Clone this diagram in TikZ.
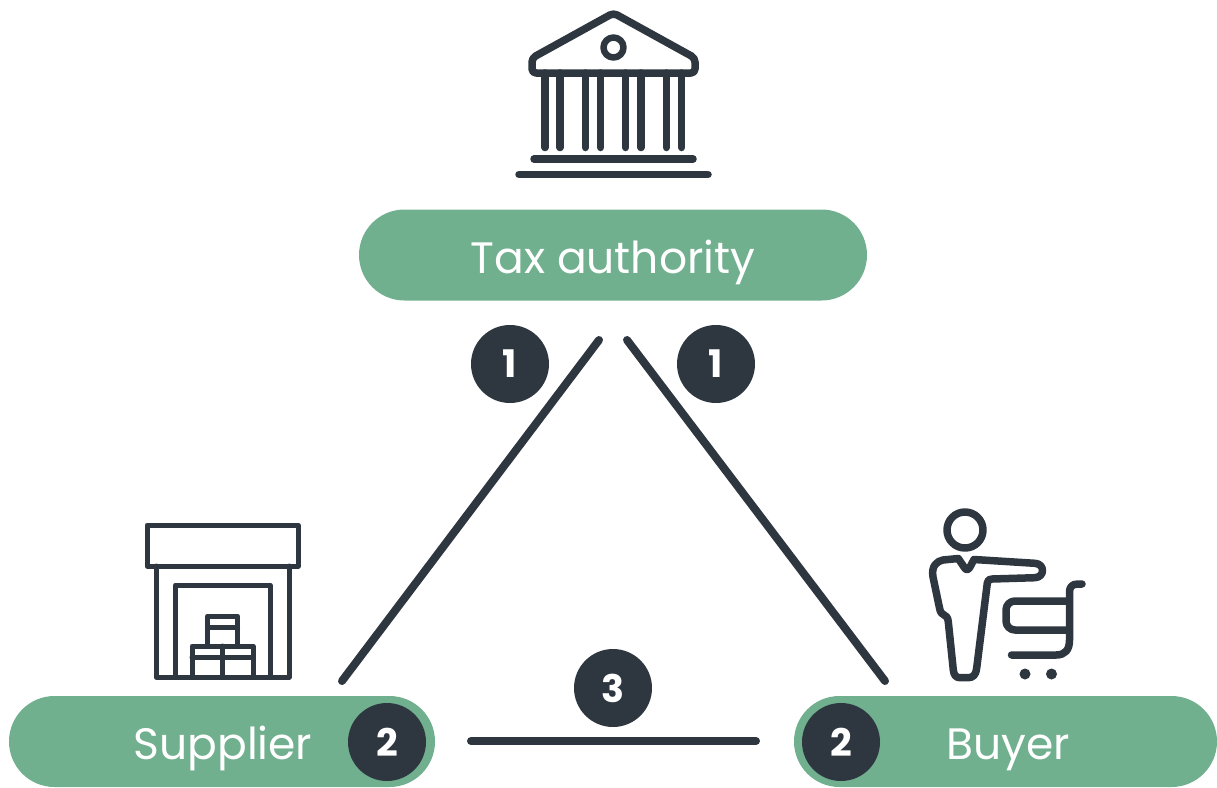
\documentclass[tikz,border=0pt]{standalone}
\usepackage{fontspec}
\setmainfont{Poppins}
\newfontfamily\digitfont{Poppins Bold}
\definecolor{slate}{HTML}{2E3740}
\definecolor{sage}{HTML}{70B08E}
\tikzset{
  pill/.style={fill=sage,text=white,rounded corners=45.5pt,minimum height=91pt,inner sep=0pt,outer sep=0pt,text height=36pt,text depth=0pt,font=\fontsize{44}{44}\selectfont},
  badge/.style={circle,fill=slate,text=white,minimum size=78pt,inner sep=0pt,font=\fontsize{38}{38}\digitfont},
  link/.style={slate,line width=8pt,line cap=round},
  icon/.style={slate,line width=#1,line join=round,line cap=round},
}
\begin{document}
\begin{tikzpicture}[x=1pt,y=-1pt]
\useasboundingbox (0,0) rectangle (1217,787);
\node[pill,minimum width=508pt] (tax) at (613,255) {Tax authority};
\node[pill,minimum width=426pt] (supplier) at (222,741.5) {\hspace{2pt}Supplier};
\node[pill,minimum width=423pt] (buyer) at (1005.5,741.5) {\hspace{5pt}Buyer};
\node[badge] (one1) at (510,364) {1};
\node[badge] (one2) at (716,364) {1};
\node[badge] (two1) at (387,742) {2};
\node[badge] (two2) at (841,742) {2};
\node[badge] (three) at (613,688) {3};

\coordinate (taxleft) at (599,340);
\coordinate (taxright) at (627,340);
\coordinate (supplierend) at (342,681);
\coordinate (buyerend) at (885,681);
\coordinate (barleft) at (471,741);
\coordinate (barright) at (756,741);
\draw[link] (taxleft) -- (supplierend);
\draw[link] (taxright) -- (buyerend);
\draw[link] (barleft) -- (barright);

\begin{scope}[icon=7.5pt]
\draw[rounded corners=4pt] (613.5,13) -- (695,58) -- (695,73) -- (532,73) -- (532,58) -- cycle;
\draw[line width=6.5pt] (613.5,47.5) circle (10);
\foreach \colx in {545,560,585.3,600.7,625.7,641,666.3,681.7}
  \draw (\colx,73) -- (\colx,147.5);
\draw (534,159) -- (693,159);
\draw (519,174.5) -- (708,174.5);
\end{scope}

\begin{scope}[icon=5pt]
\draw (147,525) rectangle (298,566);
\draw (156,566) -- (156,677) -- (289,677) -- (289,566);
\draw (175.5,677) -- (175.5,585) -- (270,585) -- (270,677);
\draw (207.5,646) -- (207.5,616) -- (237.5,616) -- (237.5,646);
\draw (207.5,627) -- (237.5,627);
\draw (192,677) -- (192,646) -- (253,646) -- (253,677);
\draw (222.5,646) -- (222.5,677);
\draw (192,657) -- (253,657);
\end{scope}

\begin{scope}[icon=7.5pt]
\draw (965,530) circle (18);
\draw (958.3,558.5) -- (964,567) .. controls (966,570.5) and (968,570.5) .. (970,567) -- (974,559.5) -- (1035,563.3) .. controls (1045,564) and (1045,577) .. (1035,577.7) -- (992,579) .. controls (989,579) and (987.8,580) .. (987.3,583) -- (976.7,668) .. controls (976,675) and (973,677.7) .. (968,677.7) -- (960,677.7) .. controls (956,677.7) and (953.8,675) .. (953.3,670) -- (948.3,622) .. controls (947.5,612) and (941,618) .. (939.5,608) -- (933,577) .. controls (931,566) and (937,561) .. (943,560) -- cycle;
\draw[rounded corners=9pt] (1067,601) -- (1006,601) -- (1006,630) -- (1067,630);
\draw (1082,584) -- (1078,584) .. controls (1072,584) and (1069.5,587) .. (1069.5,592) -- (1069.5,640) .. controls (1069.5,650) and (1065,655) .. (1056,655) -- (1011.5,655);
\fill (1025,674) circle (5.5);
\fill (1051.5,674) circle (5.5);
\end{scope}
\end{tikzpicture}
\end{document}
